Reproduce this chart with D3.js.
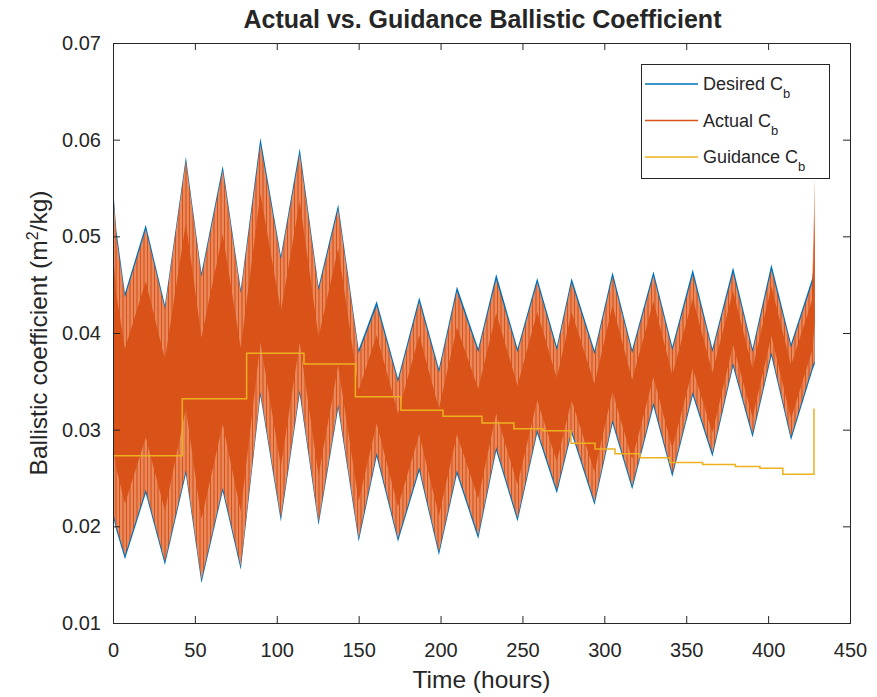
<!DOCTYPE html>
<html>
<head>
<meta charset="utf-8">
<script src="https://cdn.jsdelivr.net/npm/d3@7/dist/d3.min.js"></script>
<style>
  body { margin: 0; background: #fff; }
  text { font-family: "Liberation Sans", Arial, Helvetica, sans-serif; fill: #262626; }
</style>
</head>
<body>
<script>
// envelope of the fast orbital oscillation, read at the lobe peaks and troughs
const timeHours = [0, 2, 7.3, 20, 31.7, 44.5, 54, 67, 78, 90, 102.5, 114, 125.5, 137.5, 150,
  161, 174, 187, 199, 210, 223, 234, 247, 259, 271, 280, 294, 305, 317, 330, 341.5,
  354, 366, 378.6, 390.5, 402, 414, 427, 428.5];

const actualUpper = [0.0549, 0.0500, 0.0437, 0.0507, 0.0425, 0.0578, 0.0458, 0.0568, 0.0441, 0.0595,
  0.0476, 0.0585, 0.0444, 0.0528, 0.0379, 0.0428, 0.0349, 0.0432, 0.0359, 0.0443, 0.0380,
  0.0455, 0.0380, 0.0452, 0.0382, 0.0452, 0.0378, 0.0458, 0.0379, 0.0459, 0.0382, 0.0460,
  0.0380, 0.0462, 0.0380, 0.0465, 0.0385, 0.0452, 0.0561];
const actualLower = [0.0215, 0.0200, 0.0170, 0.0238, 0.0164, 0.0258, 0.0145, 0.0240, 0.0159, 0.0339,
  0.0209, 0.0341, 0.0205, 0.0326, 0.0188, 0.0276, 0.0188, 0.0261, 0.0174, 0.0258, 0.0191,
  0.0282, 0.0209, 0.0300, 0.0238, 0.0300, 0.0226, 0.0310, 0.0242, 0.0328, 0.0255, 0.0339,
  0.0276, 0.0369, 0.0296, 0.0380, 0.0293, 0.0365, 0.0372];

const desiredUpper = [0.0552, 0.0507, 0.0441, 0.0512, 0.0429, 0.0582, 0.0462, 0.0573, 0.0445, 0.0602,
  0.0480, 0.0591, 0.0448, 0.0533, 0.0383, 0.0433, 0.0353, 0.0437, 0.0363, 0.0448, 0.0384,
  0.0461, 0.0384, 0.0457, 0.0386, 0.0457, 0.0382, 0.0463, 0.0383, 0.0464, 0.0386, 0.0466,
  0.0384, 0.0468, 0.0384, 0.0471, 0.0389, 0.0457, 0.0477];
const desiredLower = [0.0211, 0.0196, 0.0166, 0.0234, 0.0160, 0.0254, 0.0141, 0.0236, 0.0155, 0.0335,
  0.0205, 0.0337, 0.0201, 0.0322, 0.0184, 0.0272, 0.0184, 0.0257, 0.0170, 0.0254, 0.0187,
  0.0278, 0.0205, 0.0296, 0.0234, 0.0296, 0.0222, 0.0306, 0.0238, 0.0324, 0.0251, 0.0335,
  0.0272, 0.0365, 0.0292, 0.0376, 0.0289, 0.0361, 0.0368];

// guidance Cb is piecewise constant
const guidanceTime = [0, 42.3, 81.6, 116.6, 148, 175.8, 201.5, 225.3, 244.8, 262.5, 279.6,
  294.3, 306.5, 321.8, 340, 360, 380, 395, 409, 428];
const guidanceCb = [0.0273, 0.0332, 0.0379, 0.0368, 0.0334, 0.0320, 0.0314, 0.0307, 0.0301, 0.0299,
  0.0286, 0.0280, 0.0275, 0.0271, 0.0266, 0.0264, 0.0262, 0.0260, 0.0254, 0.0322];

const xTicks = [0, 50, 100, 150, 200, 250, 300, 350, 400, 450];
const yTicks = [0.01, 0.02, 0.03, 0.04, 0.05, 0.06, 0.07];
const legendNames = ["Desired C", "Actual C", "Guidance C"];

const colors = { desired: "#0072BD", actual: "#D95319", guidance: "#EDB120", axis: "#262626" };

const width = 877, height = 697;
const margins = { left: 113, right: 27, top: 43, bottom: 74 };

const x = d3.scaleLinear().domain([0, 450]).range([margins.left, width - margins.right]);
const y = d3.scaleLinear().domain([0.01, 0.07]).range([height - margins.bottom, margins.top]);

const svg = d3.select("body").append("svg")
  .attr("width", width)
  .attr("height", height);

const defs = svg.append("defs");
defs.append("clipPath").attr("id", "plotClip")
  .append("rect")
  .attr("x", x(0)).attr("y", y(0.07))
  .attr("width", x(450) - x(0)).attr("height", y(0.01) - y(0.07));

// streaky look of the overlapping oscillation strokes
const stripes = defs.append("pattern")
  .attr("id", "streaks")
  .attr("patternUnits", "userSpaceOnUse")
  .attr("width", 7).attr("height", 10);
stripes.append("rect").attr("width", 7).attr("height", 10).attr("fill", "#E8885B");
stripes.append("rect").attr("x", 0).attr("width", 1).attr("height", 10).attr("fill", colors.actual);
stripes.append("rect").attr("x", 3).attr("width", 2).attr("height", 10).attr("fill", "#DF6A36");

const rows = timeHours.map((t, i) => ({
  t,
  au: actualUpper[i], al: actualLower[i],
  du: desiredUpper[i], dl: desiredLower[i]
}));

const plot = svg.append("g").attr("clip-path", "url(#plotClip)");

plot.append("path")
  .datum(rows)
  .attr("fill", colors.desired)
  .attr("d", d3.area().x(d => x(d.t)).y0(d => y(d.dl)).y1(d => y(d.du)));

plot.append("path")
  .datum(rows)
  .attr("fill", "url(#streaks)")
  .attr("d", d3.area().x(d => x(d.t)).y0(d => y(d.al)).y1(d => y(d.au)));

// dense core where the strokes pile up
const core = 0.6;
plot.append("path")
  .datum(rows)
  .attr("fill", colors.actual)
  .attr("d", d3.area()
    .x(d => x(d.t))
    .y0(d => y((d.au + d.al) / 2 - core * (d.au - d.al) / 2))
    .y1(d => y((d.au + d.al) / 2 + core * (d.au - d.al) / 2)));

plot.append("path")
  .datum(guidanceTime.map((t, i) => [t, guidanceCb[i]]))
  .attr("fill", "none")
  .attr("stroke", colors.guidance)
  .attr("stroke-width", 1.5)
  .attr("d", d3.line().x(d => x(d[0])).y(d => y(d[1])).curve(d3.curveStepAfter));

// axes, MATLAB style: box with inward ticks on all sides
const tickLen = 7;
function styleAxis(g) {
  g.select(".domain").remove();
  g.selectAll(".tick line").attr("stroke", colors.axis);
  g.selectAll(".tick text").attr("fill", colors.axis).style("font-size", "20px");
}

svg.append("g")
  .attr("transform", `translate(0, ${y(0.01)})`)
  .call(d3.axisBottom(x).tickValues(xTicks).tickSizeInner(-tickLen).tickSizeOuter(0).tickPadding(20))
  .call(styleAxis);

svg.append("g")
  .attr("transform", `translate(0, ${y(0.07)})`)
  .call(d3.axisTop(x).tickValues(xTicks).tickSizeInner(-tickLen).tickSizeOuter(0).tickFormat(""))
  .call(styleAxis);

svg.append("g")
  .attr("transform", `translate(${x(0)}, 0)`)
  .call(d3.axisLeft(y).tickValues(yTicks).tickSizeInner(-tickLen).tickSizeOuter(0).tickPadding(12)
    .tickFormat(d3.format(".2f")))
  .call(styleAxis);

svg.append("g")
  .attr("transform", `translate(${x(450)}, 0)`)
  .call(d3.axisRight(y).tickValues(yTicks).tickSizeInner(-tickLen).tickSizeOuter(0).tickFormat(""))
  .call(styleAxis);

svg.append("rect")
  .attr("x", x(0) + 0.5).attr("y", y(0.07) + 0.5)
  .attr("width", x(450) - x(0)).attr("height", y(0.01) - y(0.07))
  .attr("fill", "none")
  .attr("stroke", colors.axis)
  .attr("stroke-width", 1);

// titles
svg.append("text")
  .attr("x", (x(0) + x(450)) / 2 + 1).attr("y", 28)
  .attr("text-anchor", "middle")
  .style("font-size", "25px").style("font-weight", "bold")
  .attr("fill", "#000")
  .text("Actual vs. Guidance Ballistic Coefficient");

svg.append("text")
  .attr("x", (x(0) + x(450)) / 2).attr("y", 688)
  .attr("text-anchor", "middle")
  .style("font-size", "24.5px")
  .text("Time (hours)");

const ylab = svg.append("text")
  .attr("transform", `translate(47, ${(y(0.01) + y(0.07)) / 2}) rotate(-90)`)
  .attr("text-anchor", "middle")
  .style("font-size", "24.5px");
ylab.append("tspan").text("Ballistic coefficient (m");
ylab.append("tspan").attr("dy", -9).style("font-size", "16px").text("2");
ylab.append("tspan").attr("dy", 9).text("/kg)");

// legend
const legend = svg.append("g").attr("transform", "translate(641, 64)");
legend.append("rect")
  .attr("x", 0.5).attr("y", 0.5)
  .attr("width", 188).attr("height", 114)
  .attr("fill", "#fff")
  .attr("stroke", colors.axis);

const legendColors = [colors.desired, colors.actual, colors.guidance];
legendNames.forEach((name, i) => {
  const ly = 20 + i * 36.5;
  legend.append("line")
    .attr("x1", 4).attr("x2", 57)
    .attr("y1", ly).attr("y2", ly)
    .attr("stroke", legendColors[i])
    .attr("stroke-width", 1.5);
  const t = legend.append("text")
    .attr("x", 62).attr("y", ly + 6)
    .style("font-size", "18px");
  t.append("tspan").text(name);
  t.append("tspan").attr("dy", 8).style("font-size", "13px").text("b");
});
</script>
</body>
</html>
